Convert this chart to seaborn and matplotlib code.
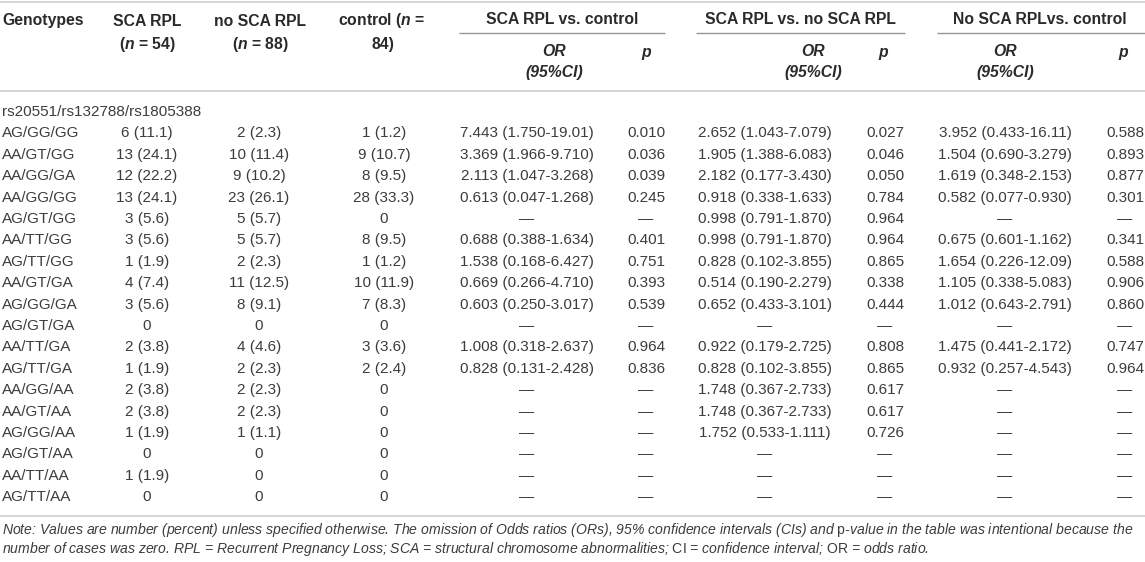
import matplotlib
matplotlib.use("Agg")
import matplotlib.pyplot as plt
import seaborn as sns

sns.set_theme(style="white")
plt.rcParams['font.family'] = ['Liberation Sans', 'DejaVu Sans']
plt.rcParams['mathtext.fontset'] = 'custom'
plt.rcParams['mathtext.rm'] = 'Liberation Sans'
plt.rcParams['mathtext.it'] = 'Liberation Sans:italic'
plt.rcParams['mathtext.bf'] = 'Liberation Sans:bold'
plt.rcParams['mathtext.bfit'] = 'Liberation Sans:bold:italic'

# table data
genotypes = ["AG/GG/GG", "AA/GT/GG", "AA/GG/GA", "AA/GG/GG", "AG/GT/GG", "AA/TT/GG",
             "AG/TT/GG", "AA/GT/GA", "AG/GG/GA", "AG/GT/GA", "AA/TT/GA", "AG/TT/GA",
             "AA/GG/AA", "AA/GT/AA", "AG/GG/AA", "AG/GT/AA", "AA/TT/AA", "AG/TT/AA"]
sca_rpl = ["6 (11.1)", "13 (24.1)", "12 (22.2)", "13 (24.1)", "3 (5.6)", "3 (5.6)",
           "1 (1.9)", "4 (7.4)", "3 (5.6)", "0", "2 (3.8)", "1 (1.9)",
           "2 (3.8)", "2 (3.8)", "1 (1.9)", "0", "1 (1.9)", "0"]
no_sca_rpl = ["2 (2.3)", "10 (11.4)", "9 (10.2)", "23 (26.1)", "5 (5.7)", "5 (5.7)",
              "2 (2.3)", "11 (12.5)", "8 (9.1)", "0", "4 (4.6)", "2 (2.3)",
              "2 (2.3)", "2 (2.3)", "1 (1.1)", "0", "0", "0"]
control = ["1 (1.2)", "9 (10.7)", "8 (9.5)", "28 (33.3)", "0", "8 (9.5)",
           "1 (1.2)", "10 (11.9)", "7 (8.3)", "0", "3 (3.6)", "2 (2.4)",
           "0", "0", "0", "0", "0", "0"]
D = "\u2014"
or_sca_ctrl = ["7.443 (1.750-19.01)", "3.369 (1.966-9.710)", "2.113 (1.047-3.268)",
               "0.613 (0.047-1.268)", D, "0.688 (0.388-1.634)", "1.538 (0.168-6.427)",
               "0.669 (0.266-4.710)", "0.603 (0.250-3.017)", D, "1.008 (0.318-2.637)",
               "0.828 (0.131-2.428)", D, D, D, D, D, D]
p_sca_ctrl = ["0.010", "0.036", "0.039", "0.245", D, "0.401", "0.751", "0.393", "0.539",
              D, "0.964", "0.836", D, D, D, D, D, D]
or_sca_nosca = ["2.652 (1.043-7.079)", "1.905 (1.388-6.083)", "2.182 (0.177-3.430)",
                "0.918 (0.338-1.633)", "0.998 (0.791-1.870)", "0.998 (0.791-1.870)",
                "0.828 (0.102-3.855)", "0.514 (0.190-2.279)", "0.652 (0.433-3.101)", D,
                "0.922 (0.179-2.725)", "0.828 (0.102-3.855)", "1.748 (0.367-2.733)",
                "1.748 (0.367-2.733)", "1.752 (0.533-1.111)", D, D, D]
p_sca_nosca = ["0.027", "0.046", "0.050", "0.784", "0.964", "0.964", "0.865", "0.338",
               "0.444", D, "0.808", "0.865", "0.617", "0.617", "0.726", D, D, D]
or_nosca_ctrl = ["3.952 (0.433-16.11)", "1.504 (0.690-3.279)", "1.619 (0.348-2.153)",
                 "0.582 (0.077-0.930)", D, "0.675 (0.601-1.162)", "1.654 (0.226-12.09)",
                 "1.105 (0.338-5.083)", "1.012 (0.643-2.791)", D, "1.475 (0.441-2.172)",
                 "0.932 (0.257-4.543)", D, D, D, D, D, D]
p_nosca_ctrl = ["0.588", "0.893", "0.877", "0.301", D, "0.341", "0.588", "0.906", "0.860",
                D, "0.747", "0.964", D, D, D, D, D, D]

group_label = "rs20551/rs132788/rs1805388"
note_lines = [
    "Note: Values are number (percent) unless specified otherwise. The omission of Odds ratios (ORs), "
    "95% confidence intervals (CIs) and $\\mathrm{p}$-value in the table was intentional because the",
    "number of cases was zero. RPL = Recurrent Pregnancy Loss; SCA = structural chromosome abnormalities; "
    "$\\mathrm{CI}$ = confidence interval; $\\mathrm{OR}$ = odds ratio.",
]

W, H = 1145, 562
fig = plt.figure(figsize=(W / 100, H / 100), dpi=100)
ax = fig.add_axes([0, 0, 1, 1])
ax.set_xlim(0, W)
ax.set_ylim(H, 0)
ax.axis('off')

head_col = '#2a2a2a'
body_col = '#3c3c3c'
line_col = '#d2d2d2'
fs = 11

# rules
ax.hlines([1.5, 91, 516], 0, W, color=line_col, lw=1.3)
for x0, x1 in [(459, 665), (696, 905), (937, 1145)]:
    ax.hlines(33, x0, x1, color='#959595', lw=1.0)

# header
hk = dict(fontsize=11.3, weight='bold', color=head_col, va='center')
ax.text(2, 21, "Genotypes", ha='left', **hk)
ax.text(147, 21, "SCA RPL", ha='center', **hk)
ax.text(147, 44, "($\\mathbfit{n}$ = 54)", ha='center', **hk)
ax.text(260, 21, "no SCA RPL", ha='center', **hk)
ax.text(260, 44, "($\\mathbfit{n}$ = 88)", ha='center', **hk)
ax.text(382, 21, "control ($\\mathbfit{n}$ =", ha='center', **hk)
ax.text(383, 44, "84)", ha='center', **hk)
for xc, lab in [(562, "SCA RPL vs. control"), (800, "SCA RPL vs. no SCA RPL"),
                (1040, "No SCA RPLvs. control")]:
    ax.text(xc, 20, lab, ha='center', **hk)
for xor, xp in [(554, 646), (813, 883), (1005, 1123)]:
    ax.text(xor, 52, "OR", ha='center', style='italic', **hk)
    ax.text(xor, 73, "(95%CI)", ha='center', style='italic', **hk)
    ax.text(xp, 52, "p", ha='center', style='italic', **hk)

# body
bk = dict(fontsize=fs, color=body_col, va='center')
y0, dy = 112, 21.4
ax.text(2, y0, group_label, ha='left', **bk)
cols = [(sca_rpl, 147), (no_sca_rpl, 259), (control, 384),
        (or_sca_ctrl, 527), (p_sca_ctrl, 646),
        (or_sca_nosca, 765), (p_sca_nosca, 885),
        (or_nosca_ctrl, 1005), (p_nosca_ctrl, 1125)]
for i, g in enumerate(genotypes):
    y = y0 + dy * (i + 1)
    ax.text(2, y, g, ha='left', **bk)
    for vals, xc in cols:
        ax.text(xc, y, vals[i], ha='center', **bk)

# footnote
for j, line in enumerate(note_lines):
    ax.text(2, 530 + 19.5 * j, line, ha='left', style='italic', fontsize=10.05,
            color=body_col, va='center')

fig.savefig("out.png", dpi=100)
